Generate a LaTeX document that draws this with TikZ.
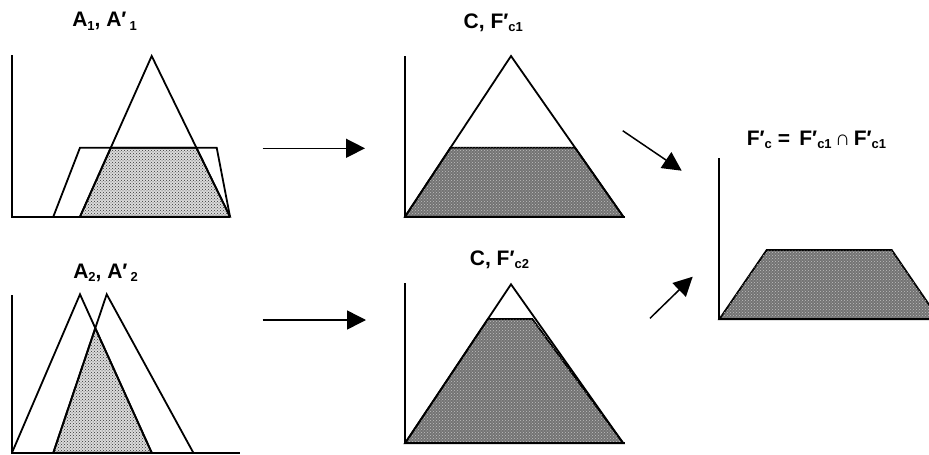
\documentclass[tikz,border=0pt]{standalone}
\usepackage{fontspec}
\setmainfont{Liberation Sans}
\usetikzlibrary{arrows.meta,patterns}
\newcommand\sbs[1]{\raisebox{-3.5pt}{\fontsize{13}{13}\selectfont #1}}
\tikzset{
  axisline/.style={line width=2pt},
  curve/.style={line width=1.8pt, line join=miter},
  dotfill/.style={line width=1.8pt, fill=black!14, postaction={pattern=crosshatch dots, pattern color=black!80}},
  darkfill/.style={line width=1.8pt, fill=black!55, postaction={pattern=crosshatch dots, pattern color=white!75!black}},
  arr/.style={line width=1.5pt, -{Triangle[length=19pt,width=19pt]}},
  ttl/.style={anchor=base, inner sep=0pt, font=\fontsize{21}{24}\selectfont\bfseries}
}
\begin{document}
\begin{tikzpicture}[x=1pt,y=-1pt]
\useasboundingbox (0,0) rectangle (929,455);
\clip (0,0) rectangle (929,455);
% titles
\node[ttl] (t1) at (104.5,26.7) {A\sbs{1}, A′\hspace{3pt}\sbs{1}};
\node[ttl] (t2) at (105.5,278.3) {A\sbs{2}, A′\hspace{3pt}\sbs{2}};
\node[ttl] (t3) at (493.3,28.3) {C, F′\sbs{c1}};
\node[ttl] (t4) at (499.5,265) {C, F′\sbs{c2}};
\node[ttl] (t5) at (816.5,145) {F′\sbs{c} =\, F′\sbs{c1}\,{\mdseries ∩}\,F′\sbs{c1}};
% panel 1
\filldraw[dotfill] (80,216.7) -- (110.8,147.7) -- (196.4,147.7) -- (230,216.7) -- cycle;
\draw[curve] (80,216.7) -- (151.7,56) -- (230,216.7);
\draw[curve] (53.3,216.7) -- (80,147.7) -- (216.7,147.7) -- (230,216.7);
\draw[axisline] (12,55) -- (12,216.7) -- (230,216.7);
% panel 2
\filldraw[dotfill] (53.3,452.7) -- (95.3,328.1) -- (151.7,452.7) -- cycle;
\draw[curve] (12,452.7) -- (80,294.3) -- (151.7,452.7);
\draw[curve] (53.3,452.7) -- (106.7,294.3) -- (193.3,452.7);
\draw[axisline] (12,295) -- (12,452.7) -- (240,452.7);
% panel 3
\filldraw[darkfill] (405,216.7) -- (450.5,147.7) -- (575,147.7) -- (623.3,216.7) -- cycle;
\draw[curve] (405,216.7) -- (511,56) -- (623.3,216.7);
\draw[axisline] (405,56) -- (405,216.7) -- (625,216.7);
% panel 4
\filldraw[darkfill] (405,443.3) -- (488,319) -- (532.3,319) -- (623.3,443.3) -- cycle;
\draw[curve] (405,443.3) -- (511,284.3) -- (623.3,443.3);
\draw[axisline] (405,283.3) -- (405,443.3) -- (625,443.3);
% panel 5
\filldraw[darkfill] (719.3,319.3) -- (766.7,250) -- (891.7,250) -- (939,319.3) -- cycle;
\draw[axisline] (719.3,158.3) -- (719.3,319.3) -- (935,319.3);
% arrows
\coordinate (a1s) at (262.7,148.3); \coordinate (a1e) at (365,148.3);
\coordinate (a2s) at (262.7,320);   \coordinate (a2e) at (366,320);
\coordinate (a3s) at (622.7,130.7); \coordinate (a3e) at (681.7,170.7);
\coordinate (a4s) at (650,318.3);   \coordinate (a4e) at (692.7,276.7);
\draw[arr] (a1s) -- (a1e);
\draw[arr] (a2s) -- (a2e);
\draw[arr] (a3s) -- (a3e);
\draw[arr] (a4s) -- (a4e);
\end{tikzpicture}
\end{document}
